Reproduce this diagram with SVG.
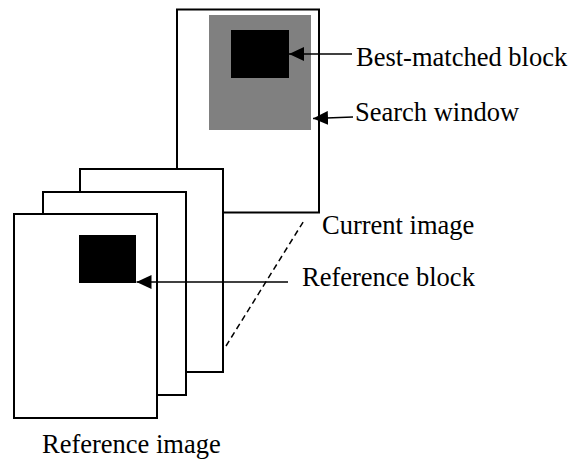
<svg xmlns="http://www.w3.org/2000/svg" width="575" height="462" viewBox="0 0 575 462">
  <style>
    .page { fill: #ffffff; stroke: #000000; stroke-width: 2; }
    .blk { fill: #000000; stroke: none; }
    .win { fill: #808080; stroke: none; }
    .arrow { stroke: #000000; stroke-width: 1.6; fill: none; marker-end: url(#head); }
    .dash { stroke: #000000; stroke-width: 1.5; stroke-dasharray: 6 4; fill: none; }
    .lbl { font-size: 26.5px; fill: #000000; }
  </style>
  <defs>
    <marker id="head" viewBox="0 0 15 14" refX="15" refY="7" markerWidth="15" markerHeight="14" markerUnits="userSpaceOnUse" orient="auto">
      <path d="M0,0 L15,7 L0,14 Z" fill="#000000"/>
    </marker>
  </defs>

  <g id="current-image">
    <rect class="page" x="177" y="9.5" width="142" height="203"/>
    <rect id="search-window" class="win" x="209" y="15" width="102" height="115"/>
    <rect id="best-matched-block" class="blk" x="231" y="30" width="58" height="48"/>
  </g>

  <g id="reference-page-3">
    <rect class="page" x="80" y="169" width="143" height="203"/>
  </g>
  <g id="reference-page-2">
    <rect class="page" x="43" y="192" width="143" height="203"/>
  </g>
  <g id="reference-image">
    <rect class="page" x="14" y="214" width="143" height="204"/>
    <rect id="reference-block" class="blk" x="79" y="235" width="57" height="48"/>
  </g>

  <g id="connectors">
    <line class="dash" x1="226" y1="346" x2="305" y2="219"/>
    <line class="arrow" x1="352" y1="54" x2="289" y2="54"/>
    <line class="arrow" x1="353" y1="117" x2="313" y2="118.5"/>
    <line class="arrow" x1="288" y1="282" x2="136.5" y2="282"/>
  </g>

  <g id="labels" font-family="'Liberation Serif', 'Times New Roman', 'DejaVu Serif', serif">
    <text class="lbl" x="356" y="66">Best-matched block</text>
    <text class="lbl" x="355" y="121">Search window</text>
    <text class="lbl" x="322" y="234">Current image</text>
    <text class="lbl" x="302" y="286">Reference block</text>
    <text class="lbl" x="42" y="453">Reference image</text>
  </g>
</svg>
